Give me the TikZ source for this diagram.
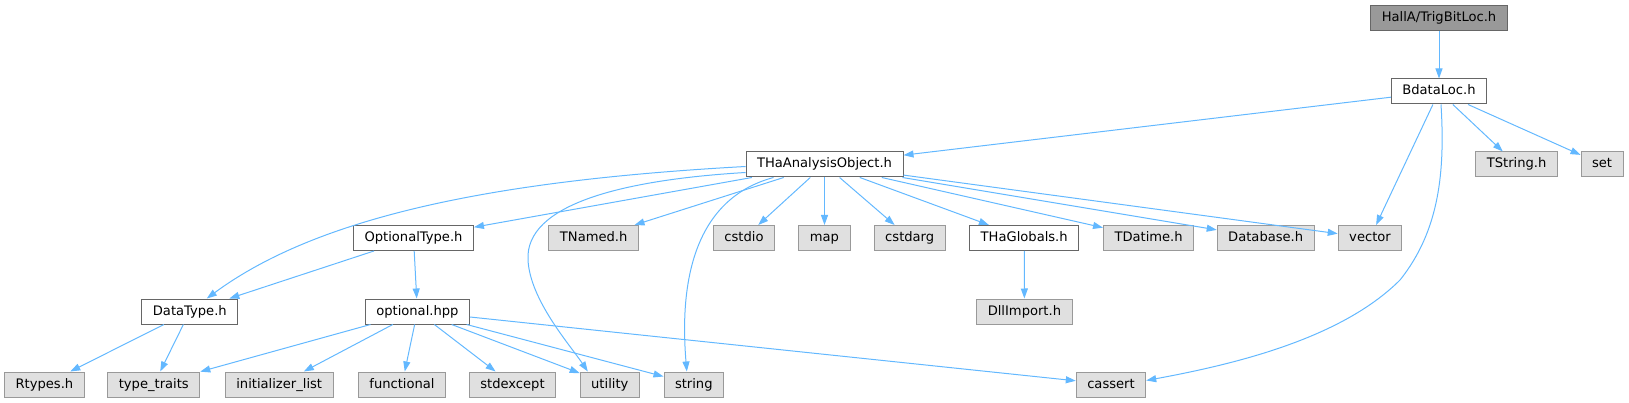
\documentclass[tikz,border=0pt]{standalone}
\usepackage{fontspec}
\setmainfont{DejaVu Sans}
\usetikzlibrary{arrows.meta}
\definecolor{edgeblue}{HTML}{63B8FF}
\definecolor{sysfill}{HTML}{E0E0E0}
\definecolor{sysline}{HTML}{999999}
\definecolor{fileline}{HTML}{666666}
\begin{document}
\begin{tikzpicture}[x=1pt, y=-1pt, >={Triangle[length=10pt, width=7pt]},
    box/.style={draw, line width=1pt, minimum height=25pt, inner xsep=11pt, inner ysep=0pt,
        text height=9.6pt, text depth=2.6pt, font=\fontsize{13.1}{15}\selectfont},
    file/.style={box, draw=fileline, fill=white},
    sys/.style={box, draw=sysline, fill=sysfill},
    root/.style={box, draw=fileline, fill=sysline},
    dep/.style={->, draw=edgeblue, line width=1pt}]
    \useasboundingbox (0, 0) rectangle (1629, 403);

    % Headers
    \node[root] (trigbit) at (1439, 18) {HallA/TrigBitLoc.h};
    \node[file] (bdata) at (1439, 91.5) {BdataLoc.h};
    \node[file] (tao) at (824.5, 164.5) {THaAnalysisObject.h};
    \node[sys] (tstring) at (1516.6, 164.5) {TString.h};
    \node[sys] (set) at (1602, 164.5) {set};
    \node[file] (opttype) at (413.5, 238) {OptionalType.h};
    \node[sys] (tnamed) at (593.7, 238) {TNamed.h};
    \node[sys] (cstdio) at (744, 238) {cstdio};
    \node[sys] (map) at (824.5, 238) {map};
    \node[sys] (cstdarg) at (909.7, 238) {cstdarg};
    \node[file] (globals) at (1024.2, 238) {THaGlobals.h};
    \node[sys] (tdatime) at (1148.6, 238) {TDatime.h};
    \node[sys] (database) at (1265.7, 238) {Database.h};
    \node[sys] (vector) at (1370, 238) {vector};
    \node[file] (datatype) at (189.8, 311.5) {DataType.h};
    \node[file] (opthpp) at (417.4, 311.5) {optional.hpp};
    \node[sys] (dllimport) at (1024.4, 311.5) {DllImport.h};
    \node[sys] (rtypes) at (44.4, 384.5) {Rtypes.h};
    \node[sys] (typetraits) at (153.8, 384.5) {type\_traits};
    \node[sys] (initlist) at (279.2, 384.5) {initializer\_list};
    \node[sys] (functional) at (402, 384.5) {functional};
    \node[sys] (stdexcept) at (512.5, 384.5) {stdexcept};
    \node[sys] (utility) at (609.8, 384.5) {utility};
    \node[sys] (string) at (693.8, 384.5) {string};
    \node[sys] (cassert) at (1111, 384.5) {cassert};

    % Includes of the top files
    \draw[dep] (trigbit) -- (bdata);
    \draw[dep] (bdata) -- (tao);
    \draw[dep] (bdata) -- (vector);
    \draw[dep] (bdata) -- (tstring);
    \draw[dep] (bdata) -- (set);
    \draw[dep] ([xshift=2pt]bdata.south) .. controls (1445, 170) and (1440, 230) .. (1400, 280)
        .. controls (1340, 340) and (1230, 365) .. ([yshift=4pt]cassert.east);

    % Includes of THaAnalysisObject.h
    \draw[dep] ([yshift=-2pt]tao.west) .. controls (500, 180) and (320, 215) .. ([xshift=17pt]datatype.north);
    \draw[dep] (tao) -- (opttype);
    \draw[dep] ([yshift=5pt]tao.south west) .. controls (620, 180) and (525, 205) .. (528, 260)
        .. controls (530, 300) and (570, 345) .. ([xshift=-22pt]utility.north);
    \draw[dep] ([xshift=28pt]tao.south west) .. controls (690, 200) and (680, 290) .. ([xshift=-7pt]string.north);
    \draw[dep] (tao) -- (tnamed);
    \draw[dep] (tao) -- (cstdio);
    \draw[dep] (tao) -- (map);
    \draw[dep] (tao) -- (cstdarg);
    \draw[dep] (tao) -- (globals);
    \draw[dep] (tao) -- (tdatime);
    \draw[dep] (tao) -- (database);
    \draw[dep] (tao) -- (vector);

    % Lower levels
    \draw[dep] (opttype) -- (datatype);
    \draw[dep] (opttype) -- (opthpp);
    \draw[dep] (globals) -- (dllimport);
    \draw[dep] (datatype) -- (rtypes);
    \draw[dep] (datatype) -- (typetraits);
    \draw[dep] (opthpp) -- (typetraits);
    \draw[dep] (opthpp) -- (initlist);
    \draw[dep] (opthpp) -- (functional);
    \draw[dep] (opthpp) -- (stdexcept);
    \draw[dep] (opthpp) -- (utility);
    \draw[dep] (opthpp) -- (string);
    \draw[dep] (opthpp) -- (cassert);
\end{tikzpicture}
\end{document}
